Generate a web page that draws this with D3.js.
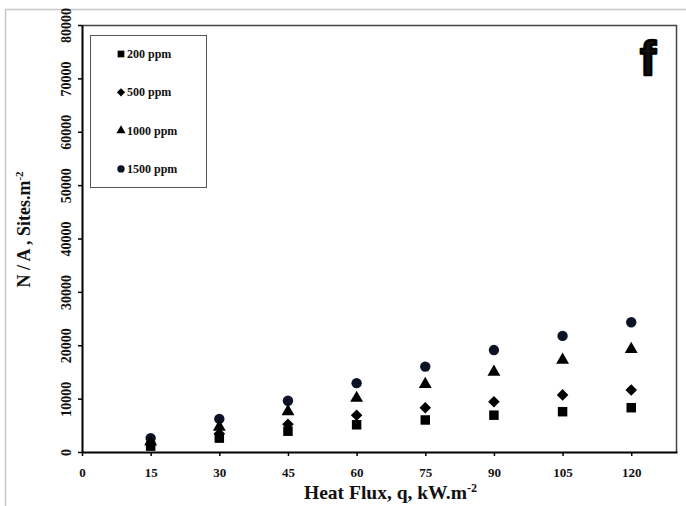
<!DOCTYPE html>
<html>
<head>
<meta charset="utf-8">
<script src="https://cdn.jsdelivr.net/npm/d3@7/dist/d3.min.js"></script>
<style>
  body { margin: 0; background: #fff; }
  text { font-family: "Liberation Serif", "Times New Roman", serif; font-weight: bold; fill: #111; }
</style>
</head>
<body>
<div id="chart"></div>
<script>
var heatFlux = [15, 30, 45, 60, 75, 90, 105, 120];
var ppm200 = [1100, 2600, 3900, 5100, 6000, 6900, 7550, 8300];
var ppm500 = [1500, 3400, 5200, 6900, 8300, 9400, 10700, 11600];
var ppm1000 = [1900, 4700, 7600, 10100, 12700, 15000, 17250, 19250];
var ppm1500 = [2600, 6200, 9600, 12900, 16000, 19100, 21750, 24300];
var seriesNames = ["200 ppm", "500 ppm", "1000 ppm", "1500 ppm"];
var xTicks = [0, 15, 30, 45, 60, 75, 90, 105, 120];
var yTicks = [0, 10000, 20000, 30000, 40000, 50000, 60000, 70000, 80000];

var W = 686, H = 506;
var margin = {top: 25, right: 9, bottom: 54, left: 82},
    width = W - margin.left - margin.right,
    height = H - margin.top - margin.bottom;

var svgRoot = d3.select("#chart").append("svg")
    .attr("width", W)
    .attr("height", H);

// light outer frame
svgRoot.append("path")
    .attr("d", "M5.5," + H + " L5.5,9.5 L" + W + ",9.5")
    .attr("fill", "none")
    .attr("stroke", "#c8c8c8")
    .attr("stroke-width", 1.5);

var svg = svgRoot.append("g")
    .attr("transform", "translate(" + margin.left + "," + margin.top + ")");

var x = d3.scaleLinear().domain([0, 130]).range([0, width]);
var y = d3.scaleLinear().domain([0, 80000]).range([height, 0]);

// plot frame (top + right)
svg.append("path")
    .attr("d", "M0,0.5 L" + (width - 0.5) + ",0.5 L" + (width - 0.5) + "," + height)
    .attr("fill", "none")
    .attr("stroke", "#444")
    .attr("stroke-width", 1.5);

var xAxis = svg.append("g")
    .attr("transform", "translate(0," + height + ")")
    .call(d3.axisBottom(x).tickValues(xTicks).tickSize(4).tickPadding(12).tickSizeOuter(0));
xAxis.select(".domain").attr("stroke", "#000").attr("stroke-width", 2);
xAxis.selectAll(".tick line").attr("stroke", "#000").attr("stroke-width", 1.5);
xAxis.selectAll(".tick text").attr("font-size", 13).style("font-family", "Liberation Serif").style("font-weight", "bold");

var yAxis = svg.append("g")
    .call(d3.axisLeft(y).tickValues(yTicks).tickFormat(d3.format("d")).tickSize(4).tickSizeOuter(0));
yAxis.select(".domain").attr("stroke", "#000").attr("stroke-width", 2);
yAxis.selectAll(".tick line").attr("stroke", "#000").attr("stroke-width", 1.5);
yAxis.selectAll(".tick text")
    .attr("font-size", 14)
    .style("font-family", "Liberation Serif").style("font-weight", "bold")
    .attr("x", null).attr("dy", null)
    .attr("text-anchor", "middle")
    .attr("transform", "translate(-11,0) rotate(-90)")
    .attr("y", 0);

// axis titles
svg.append("text")
    .attr("x", width / 2 + 11)
    .attr("y", height + 47)
    .attr("text-anchor", "middle")
    .attr("font-size", 19.5)
    .html("Heat Flux, q, kW.m<tspan dy='-7' font-size='12'>-2</tspan>");

svg.append("text")
    .attr("transform", "translate(-52," + (height / 2 - 9) + ") rotate(-90)")
    .attr("text-anchor", "middle")
    .attr("font-size", 18)
    .html("N / A , Sites.m<tspan dy='-7' font-size='11'>-2</tspan>");

var series = [
  {name: seriesNames[0], values: ppm200, sym: d3.symbolSquare, size: 90, color: "#000"},
  {name: seriesNames[1], values: ppm500, sym: d3.symbolDiamond2, size: 85, color: "#000"},
  {name: seriesNames[2], values: ppm1000, sym: d3.symbolTriangle, size: 72, color: "#000"},
  {name: seriesNames[3], values: ppm1500, sym: d3.symbolCircle, size: 85, color: "#0d1326"}
];

series.slice().reverse().forEach(function(s) {
  svg.append("g").selectAll("path")
    .data(heatFlux.map(function(q, i) { return [q, s.values[i]]; }))
    .enter().append("path")
      .attr("d", d3.symbol().type(s.sym).size(s.size))
      .attr("transform", function(d) { return "translate(" + x(d[0]) + "," + y(d[1]) + ")"; })
      .attr("fill", s.color);
});

// legend
var legend = svg.append("g").attr("transform", "translate(8,10)");
legend.append("rect")
    .attr("x", 0.5).attr("y", 0.5)
    .attr("width", 116).attr("height", 152)
    .attr("fill", "#fff")
    .attr("stroke", "#555")
    .attr("stroke-width", 1);

series.forEach(function(s, i) {
  var ly = 19 + i * 38.3;
  legend.append("path")
      .attr("d", d3.symbol().type(s.sym).size(s.size * 0.5))
      .attr("transform", "translate(31," + ly + ")")
      .attr("fill", s.color);
  legend.append("text")
      .attr("x", 37)
      .attr("y", ly + 4)
      .attr("font-size", 12)
      .text(s.name);
});

// panel label
svgRoot.append("text")
    .attr("x", 648)
    .attr("y", 75)
    .attr("text-anchor", "middle")
    .attr("font-size", 48)
    .style("font-family", "Liberation Sans, Arial, sans-serif")
    .style("font-weight", "900")
    .attr("fill", "#000")
    .attr("stroke", "#000")
    .attr("stroke-width", 2.5)
    .attr("stroke-linejoin", "round")
    .text("f");
</script>
</body>
</html>
